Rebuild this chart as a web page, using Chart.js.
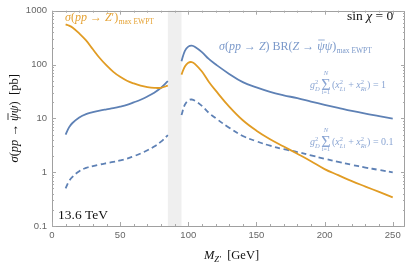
<!DOCTYPE html>
<html>
<head>
<meta charset="utf-8">
<script src="https://cdn.jsdelivr.net/npm/chart.js@4/dist/chart.umd.min.js"></script>
<style>
html,body{margin:0;padding:0;background:#fff;}
#wrap{width:411px;height:267px;position:relative;}
</style>
</head>
<body>
<div id="wrap"><canvas id="c" width="411" height="267"></canvas></div>
<script>
// ---- data ----
const massLow  = [10, 12.5, 15, 20, 25, 30, 35, 40, 45, 50, 55, 60, 65, 70, 75, 80, 85];
const zprimeLow = [555, 528, 488, 378, 280, 192, 132, 96, 73, 59, 50, 44.5, 40.5, 38, 36.8, 37, 40.5];
const zbrLow    = [5.0, 6.8, 8.2, 10.4, 12.0, 13.0, 13.9, 14.7, 15.5, 16.5, 17.8, 19.8, 22.2, 25.5, 30, 37, 49];
const zbrLowTenth = [0.50, 0.68, 0.82, 1.04, 1.20, 1.30, 1.39, 1.47, 1.55, 1.65, 1.78, 1.98, 2.22, 2.55, 3.0, 3.7, 4.9];

const massHigh  = [95, 97.5, 100, 102.5, 105, 110, 115, 120, 130, 140, 150, 160, 170, 180, 190, 200, 210, 220, 230, 240, 250];
const zprimeHigh = [65, 92, 108, 111, 102, 74, 48, 33, 16.5, 9.2, 5.9, 4.1, 3.0, 2.2, 1.6, 1.14, 0.88, 0.68, 0.54, 0.43, 0.34];
const zbrHigh    = [115, 180, 215, 224, 212, 170, 127, 101, 67, 47, 37.5, 31, 26.8, 23.7, 20.5, 17.8, 15.6, 13.7, 12.2, 11.0, 9.9];
const zbrHighTenth = [11.5, 18, 21.5, 22.4, 21.2, 17, 12.7, 10.1, 6.7, 4.7, 3.75, 3.1, 2.68, 2.37, 2.05, 1.78, 1.56, 1.37, 1.22, 1.10, 0.99];

const excludedBand = [85, 95];
const xMajorTicks = [0, 50, 100, 150, 200, 250];
const yMajorTicks = [0.1, 1, 10, 100, 1000];
const yTickLabels = ['0.1', '1', '10', '100', '1000'];

// ---- styles ----
const ORANGE = '#E19C24';
const BLUE = '#5E81B5';
const ORANGE_TXT = '#E5A233';
const BLUE_TXT = '#7B99CA';
const BLUE_TXT2 = '#8AA5D3';
const SERIF = '"Liberation Serif", "DejaVu Serif", serif';
const SANS = '"Liberation Sans", Arial, sans-serif';

function pts(xs, ys){ return xs.map((x,i)=>({x:x, y:ys[i]})); }

function ds(label, xs, ys, color, dash){
  return {label, data: pts(xs, ys), borderColor: color, borderWidth: 1.8,
    borderDash: dash || [], pointRadius: 0, tension: 0.4, fill: false};
}

// rich text helpers
function fnt(size, italic){ return (italic ? 'italic ' : '') + size + 'px ' + SERIF; }
function measure(ctx, parts){
  let w = 0;
  for (const p of parts){
    if (p.stack){
      let m = 0;
      for (const s of p.stack){ ctx.font = s.font; m = Math.max(m, ctx.measureText(s.t).width); }
      w += m + (p.kern||0);
    } else { ctx.font = p.font; w += ctx.measureText(p.t).width + (p.kern||0); }
  }
  return w;
}
function drawParts(ctx, x, y, parts, color, align){
  let cx = x;
  if (align === 'center') cx = x - measure(ctx, parts)/2;
  ctx.fillStyle = color; ctx.strokeStyle = color;
  ctx.textBaseline = 'alphabetic'; ctx.textAlign = 'left';
  for (const p of parts){
    if (p.stack){
      let m = 0;
      for (const s of p.stack){ ctx.font = s.font; m = Math.max(m, ctx.measureText(s.t).width); }
      for (const s of p.stack){
        ctx.font = s.font;
        const w = ctx.measureText(s.t).width;
        const ox = s.center ? (m - w)/2 : 0;
        ctx.fillText(s.t, cx + ox, y + (s.dy||0));
      }
      cx += m + (p.kern||0);
    } else {
      ctx.font = p.font;
      const w = ctx.measureText(p.t).width;
      ctx.fillText(p.t, cx, y + (p.dy||0));
      if (p.bar){
        ctx.lineWidth = 0.8;
        ctx.beginPath();
        ctx.moveTo(cx + 1, y + (p.dy||0) - p.bar);
        ctx.lineTo(cx + w, y + (p.dy||0) - p.bar);
        ctx.stroke();
      }
      cx += w + (p.kern||0);
    }
  }
  return cx;
}

function gLabel(value){
  const s = 10, sm = 6.5;
  return [
    {t:'g', font: fnt(s, true)},
    {stack:[{t:'2', font: fnt(sm), dy:-4.5}, {t:'D', font: fnt(sm, true), dy:2.5}], kern: 1.5},
    {stack:[{t:'N', font: fnt(sm, true), dy:-13, center:true},
            {t:'\u03A3', font: fnt(16), dy:1.5, center:true},
            {t:'i=1', font: fnt(6), dy:6, center:true}], kern: 1.5},
    {t:'(', font: fnt(s)},
    {t:'x', font: fnt(s, true)},
    {stack:[{t:'2', font: fnt(sm), dy:-4.5}, {t:'Li', font: fnt(sm, true), dy:2.5}], kern: 0.5},
    {t:' + ', font: fnt(s)},
    {t:'x', font: fnt(s, true)},
    {stack:[{t:'2', font: fnt(sm), dy:-4.5}, {t:'Ri', font: fnt(sm, true), dy:2.5}], kern: 0.5},
    {t:') = ' + value, font: fnt(s)}
  ];
}

const decorPlugin = {
  id: 'decor',
  beforeDatasetsDraw(chart){
    const {ctx, chartArea:a, scales:{x}} = chart;
    const x0 = x.getPixelForValue(excludedBand[0]);
    const x1 = x.getPixelForValue(excludedBand[1]);
    ctx.save();
    ctx.fillStyle = '#EFEFEF';
    ctx.fillRect(x0, a.top, x1 - x0, a.bottom - a.top);
    ctx.restore();
  },
  afterDatasetsDraw(chart){
    const {ctx, chartArea:a, scales:{x, y}} = chart;
    ctx.save();
    // frame
    ctx.strokeStyle = '#A0A0A0';
    ctx.lineWidth = 1;
    ctx.strokeRect(Math.round(a.left)+0.5, Math.round(a.top)+0.5, Math.round(a.right-a.left)-1, Math.round(a.bottom-a.top));
    // inside ticks
    ctx.strokeStyle = '#A8A8A8';
    ctx.beginPath();
    for (const t of x.ticks){
      const px = Math.round(x.getPixelForValue(t.value)) + 0.5;
      const len = xMajorTicks.includes(t.value) ? 4 : 2;
      ctx.moveTo(px, a.bottom); ctx.lineTo(px, a.bottom - len);
      ctx.moveTo(px, a.top); ctx.lineTo(px, a.top + len);
    }
    for (const t of y.ticks){
      const py = Math.round(y.getPixelForValue(t.value)) + 0.5;
      const len = yMajorTicks.includes(t.value) ? 4 : 2;
      ctx.moveTo(a.left, py); ctx.lineTo(a.left + len, py);
      ctx.moveTo(a.right, py); ctx.lineTo(a.right - len, py);
    }
    ctx.stroke();

    // annotations
    drawParts(ctx, 65, 21, [
      {t:'\u03C3', font: fnt(12, true)}, {t:'(', font: fnt(12)}, {t:'pp', font: fnt(12, true)},
      {t:' \u2192 ', font: fnt(12)}, {t:'Z', font: fnt(12, true)}, {t:'\u2032', font: fnt(12)},
      {t:')', font: fnt(12), kern: 0.5}, {t:'max EWPT', font: fnt(7.5), dy: 3}
    ], ORANGE_TXT);

    drawParts(ctx, 219, 50, [
      {t:'\u03C3', font: fnt(12, true)}, {t:'(', font: fnt(12)}, {t:'pp', font: fnt(12, true)},
      {t:' \u2192 ', font: fnt(12)}, {t:'Z', font: fnt(12, true)}, {t:') BR(', font: fnt(12)},
      {t:'Z', font: fnt(12, true)}, {t:' \u2192 ', font: fnt(12)},
      {t:'\u03C8', font: fnt(12, true), bar: 10}, {t:'\u03C8', font: fnt(12, true)},
      {t:')', font: fnt(12), kern: 0.5}, {t:'max EWPT', font: fnt(7.5), dy: 3}
    ], BLUE_TXT);

    drawParts(ctx, 347, 20, [
      {t:'sin ', font: fnt(13.5)}, {t:'\u03C7', font: fnt(13.5, true)}, {t:' = 0', font: fnt(13.5)}
    ], '#111');

    drawParts(ctx, 58, 219, [{t:'13.6 TeV', font: fnt(13.5)}], '#111');

    drawParts(ctx, 310, 88, gLabel('1'), BLUE_TXT2);
    drawParts(ctx, 310, 145, gLabel('0.1'), BLUE_TXT2);

    // axis titles
    drawParts(ctx, (a.left + a.right)/2 + 3, 259, [
      {t:'M', font: fnt(12.5, true)}, {t:'Z\u2032', font: fnt(8.5, true), dy: 3},
      {t:'  [GeV]', font: fnt(12.5)}
    ], '#111', 'center');

    ctx.translate(14, (a.top + a.bottom)/2);
    ctx.rotate(-Math.PI/2);
    drawParts(ctx, 0, 4, [
      {t:'\u03C3', font: fnt(12.5, true)}, {t:'(', font: fnt(12.5)}, {t:'pp', font: fnt(12.5, true)},
      {t:' \u2192 ', font: fnt(12.5)}, {t:'\u03C8', font: fnt(12.5, true), bar: 10},
      {t:'\u03C8', font: fnt(12.5, true)}, {t:')  [pb]', font: fnt(12.5)}
    ], '#111', 'center');
    ctx.restore();
  }
};

const chart = new Chart(document.getElementById('c'), {
  type: 'line',
  data: {
    datasets: [
      ds('Z\' low', massLow, zprimeLow, ORANGE),
      ds('Z\' high', massHigh, zprimeHigh, ORANGE),
      ds('Z BR low', massLow, zbrLow, BLUE),
      ds('Z BR high', massHigh, zbrHigh, BLUE),
      ds('Z BR low 0.1', massLow, zbrLowTenth, BLUE, [5.5, 3.5]),
      ds('Z BR high 0.1', massHigh, zbrHighTenth, BLUE, [5.5, 3.5])
    ]
  },
  options: {
    responsive: false,
    animation: false,
    devicePixelRatio: 1,
    layout: {padding: {top: 6, right: 6, left: 0, bottom: 0}},
    plugins: {legend: {display: false}, tooltip: {enabled: false}},
    scales: {
      x: {
        type: 'linear', min: 0, max: 259,
        afterBuildTicks(s){
          const t = [];
          for (let v = 0; v <= 250; v += 10) t.push({value: v});
          s.ticks = t;
        },
        afterFit(s){ s.height = 41; },
        grid: {display: false, drawTicks: false},
        border: {display: false},
        ticks: {
          autoSkip: false, maxRotation: 0, padding: 4, color: '#666',
          font: {family: SANS, size: 9.5},
          callback(v){ return xMajorTicks.includes(v) ? String(v) : ''; }
        }
      },
      y: {
        type: 'logarithmic', min: 0.1, max: 1000,
        afterBuildTicks(s){
          const t = [];
          for (const d of [0.1, 1, 10, 100]){
            for (let k = 1; k <= 9; k++) t.push({value: +(d*k).toPrecision(3)});
          }
          t.push({value: 1000});
          s.ticks = t;
        },
        afterFit(s){ s.width = 52; },
        grid: {display: false, drawTicks: false},
        border: {display: false},
        ticks: {
          autoSkip: false, padding: 5, color: '#666',
          font: {family: SANS, size: 9.5},
          callback(v){ const i = yMajorTicks.indexOf(v); return i >= 0 ? yTickLabels[i] : ''; }
        }
      }
    }
  },
  plugins: [decorPlugin]
});
</script>
</body>
</html>
